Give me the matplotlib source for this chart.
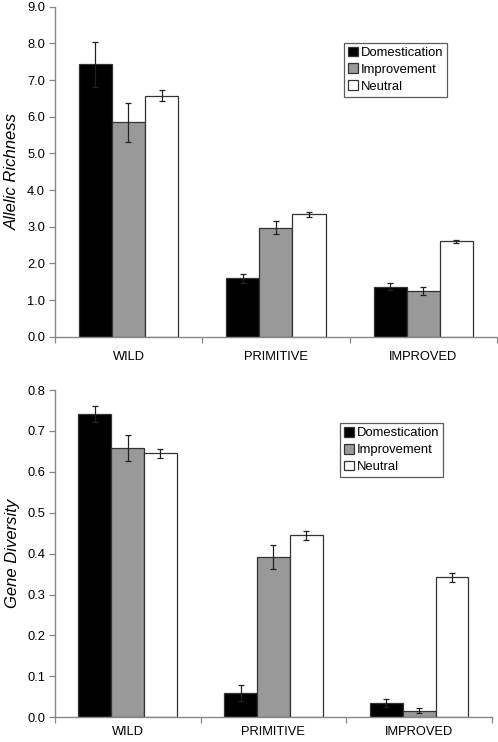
import matplotlib
matplotlib.use("Agg")
import matplotlib.pyplot as plt
import numpy as np

plt.rcParams['font.family'] = ['Liberation Sans', 'DejaVu Sans']

groups = ["WILD", "PRIMITIVE", "IMPROVED"]
series = ["Domestication", "Improvement", "Neutral"]
colors = ["#000000", "#999999", "#ffffff"]

# allelic richness (top panel)
ar_dom = [7.43, 1.60, 1.37]
ar_imp = [5.85, 2.98, 1.25]
ar_neu = [6.57, 3.34, 2.60]
ar_dom_err = [0.62, 0.12, 0.09]
ar_imp_err = [0.53, 0.17, 0.10]
ar_neu_err = [0.15, 0.07, 0.05]

# gene diversity (bottom panel)
gd_dom = [0.741, 0.060, 0.034]
gd_imp = [0.658, 0.391, 0.016]
gd_neu = [0.645, 0.445, 0.342]
gd_dom_err = [0.020, 0.020, 0.010]
gd_imp_err = [0.031, 0.029, 0.006]
gd_neu_err = [0.010, 0.011, 0.011]


def draw_panel(ax, vals, errs, ylim, ystep, ylabel, legend_box, xpad):
    x = np.arange(len(groups))
    w = 0.225
    for i, (v, e) in enumerate(zip(vals, errs)):
        ax.bar(x + (i - 1) * w, v, w, color=colors[i], edgecolor="#333333",
               linewidth=0.9, label=series[i], zorder=2)
        ax.errorbar(x + (i - 1) * w, v, yerr=e, fmt="none", ecolor="#222222",
                    elinewidth=0.9, capsize=2.5, capthick=0.9, zorder=3)
    ax.set_xlim(-0.5, 2.5)
    ax.set_ylim(*ylim)
    ax.set_yticks(np.arange(ylim[0], ylim[1] + ystep / 2, ystep))
    ax.yaxis.set_major_formatter(matplotlib.ticker.FormatStrFormatter("%.1f"))
    ax.set_xticks(x)
    ax.set_xticklabels(groups)
    ax.set_xticks([-0.5, 0.5, 1.5, 2.5], minor=True)
    ax.tick_params(axis="x", which="major", length=0, pad=xpad, labelsize=9.3)
    ax.tick_params(axis="x", which="minor", length=4, color="#888888", width=0.9)
    ax.tick_params(axis="y", length=4, color="#888888", width=0.9, labelsize=9.3, pad=3)
    for s in ["top", "right"]:
        ax.spines[s].set_visible(False)
    for s in ["left", "bottom"]:
        ax.spines[s].set_color("#888888")
        ax.spines[s].set_linewidth(1.0)
    ax.set_ylabel(ylabel, fontsize=12, style="italic", labelpad=5)
    leg = ax.legend(loc="upper left", bbox_to_anchor=legend_box, frameon=True,
                    fancybox=False, edgecolor="#333333", fontsize=9.4,
                    handlelength=0.75, handleheight=0.75, handletextpad=0.25,
                    borderpad=0.3, labelspacing=0.35, borderaxespad=0)
    leg.get_frame().set_linewidth(0.9)


fig = plt.figure(figsize=(4.98, 7.42), dpi=100)
ax1 = fig.add_axes([0.110, 0.546, 0.888, 0.445])
ax2 = fig.add_axes([0.110, 0.0333, 0.878, 0.441])

draw_panel(ax1, [ar_dom, ar_imp, ar_neu], [ar_dom_err, ar_imp_err, ar_neu_err],
           (0, 9), 1.0, "Allelic Richness", (0.654, 0.891), 10)
draw_panel(ax2, [gd_dom, gd_imp, gd_neu], [gd_dom_err, gd_imp_err, gd_neu_err],
           (0, 0.8), 0.1, "Gene Diversity", (0.652, 0.899), 6)

fig.savefig("out.png", dpi=100)
